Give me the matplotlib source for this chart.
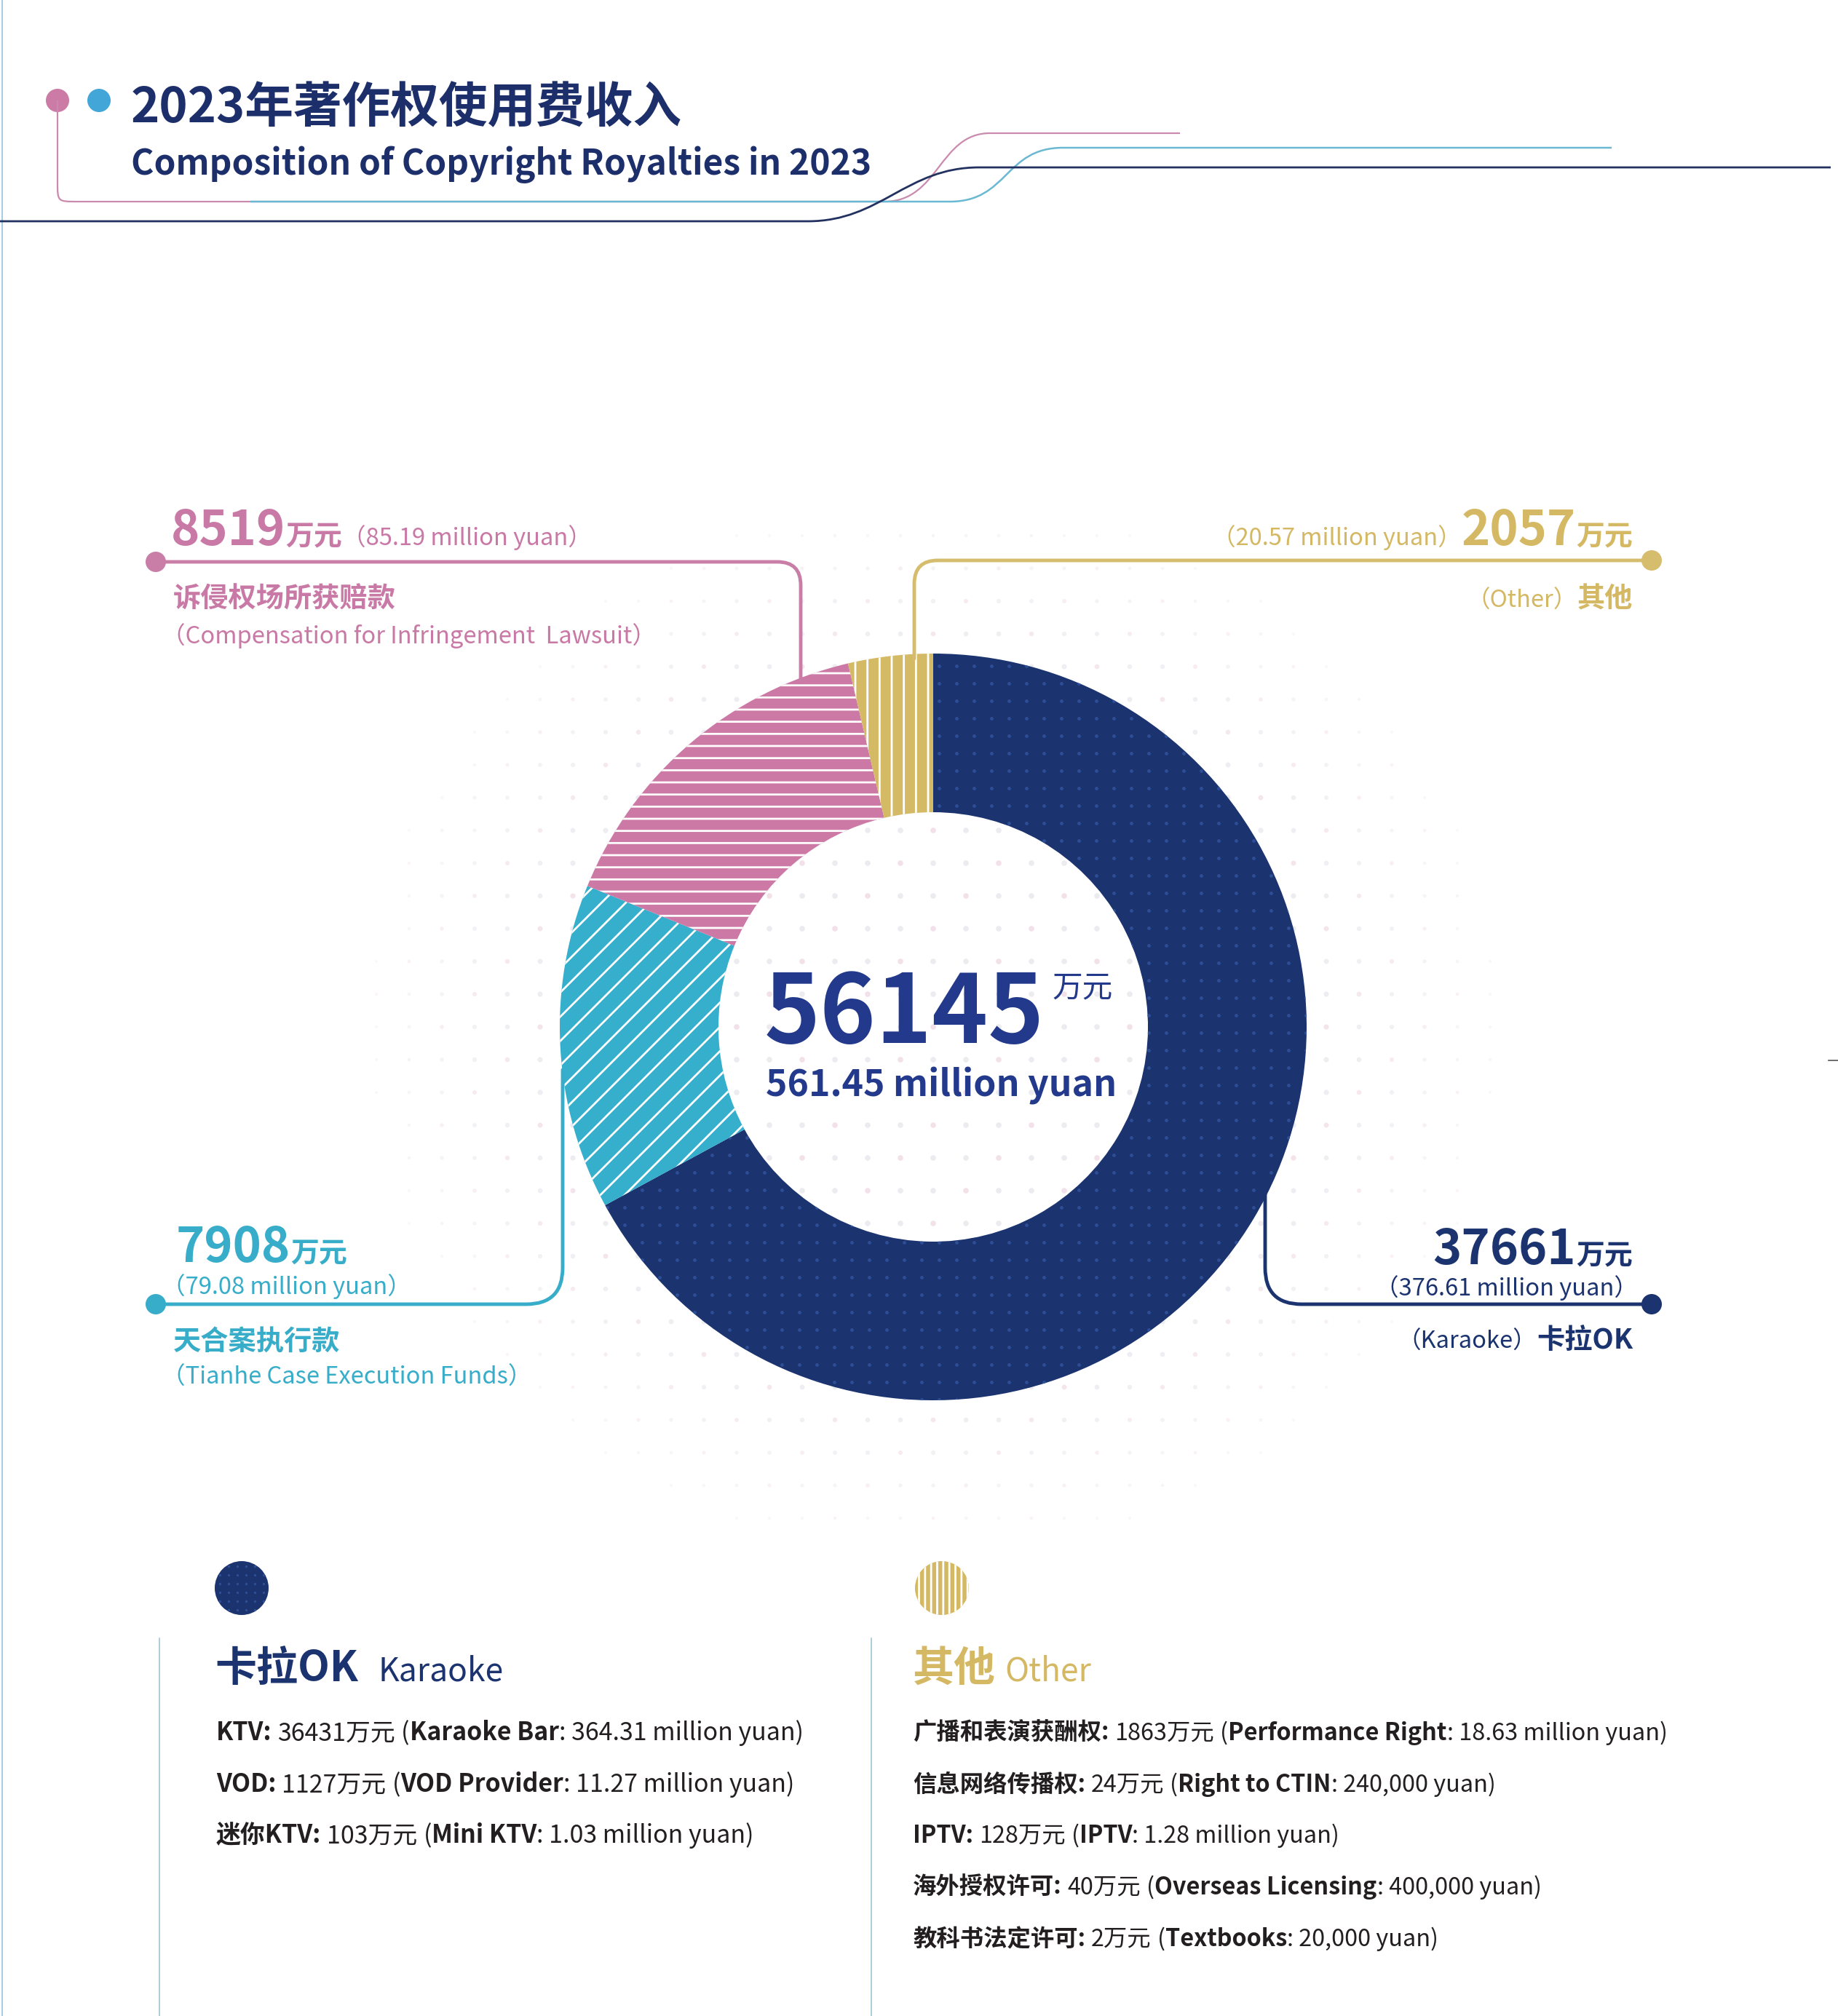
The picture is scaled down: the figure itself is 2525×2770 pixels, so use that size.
import numpy as np
import matplotlib
matplotlib.use("Agg")
import matplotlib.pyplot as plt
from matplotlib.path import Path
from matplotlib.patches import PathPatch, Circle

plt.rcParams['font.family'] = ['Noto Sans CJK SC', 'DejaVu Sans']
plt.rcParams['hatch.linewidth'] = 2.0

# ---- data (万元) ----
categories = ['卡拉OK', '天合案执行款', '诉侵权场所获赔款', '其他']
categories_en = ['Karaoke', 'Tianhe Case Execution Funds',
                 'Compensation for Infringement  Lawsuit', 'Other']
values = [37661, 7908, 8519, 2057]
values_million = ['376.61', '79.08', '85.19', '20.57']
total = 56145
total_million = '561.45'

karaoke_cn = ['KTV', 'VOD', '迷你KTV']
karaoke_val = [36431, 1127, 103]
karaoke_en = ['Karaoke Bar', 'VOD Provider', 'Mini KTV']
karaoke_yuan = ['364.31 million yuan', '11.27 million yuan', '1.03 million yuan']

other_cn = ['广播和表演获酬权', '信息网络传播权', 'IPTV', '海外授权许可', '教科书法定许可']
other_val = [1863, 24, 128, 40, 2]
other_en = ['Performance Right', 'Right to CTIN', 'IPTV', 'Overseas Licensing', 'Textbooks']
other_yuan = ['18.63 million yuan', '240,000 yuan', '1.28 million yuan',
              '400,000 yuan', '20,000 yuan']

# ---- colours ----
NAVY = '#1b336f'
NAVY_TXT = '#23398c'
CYAN = '#37adc9'
PINK = '#c979a5'
GOLD = '#d4b863'
DARK = '#231f20'
wedge_colors = [NAVY, '#35afcb', '#cc79a6', '#d5ba66']
wedge_hatch = [None, '/', '-', '|']

W, H = 2525, 2770
fig = plt.figure(figsize=(W / 100, H / 100), dpi=100)
ax = fig.add_axes([0, 0, 1, 1])
CX, CY, R, RW = 1282, 1411, 513, 218

# donut (y axis is inverted afterwards, so draw counterclock in data = clockwise on screen)
wedges, _ = ax.pie(values, radius=R, center=(CX, CY), startangle=-90,
                   counterclock=True, wedgeprops=dict(width=RW, linewidth=0))
for w, c, h in zip(wedges, wedge_colors, wedge_hatch):
    w.set_facecolor(c)
    w.set_zorder(2)
    if h:
        w.set_hatch(h)
        w.set_edgecolor('white')
        w.set_linewidth(0)

ax.set_xlim(0, W)
ax.set_ylim(H, 0)
ax.set_aspect('auto')
ax.axis('off')

# faint background dot grid around the donut
gx, gy = np.meshgrid(np.arange(CX - 765, CX + 766, 45), np.arange(CY - 720, CY + 721, 45))
gx, gy = gx.ravel(), gy.ravel()
d = np.hypot((gx - CX) / 1.08, gy - CY)
keep = d < 720
gx, gy, d = gx[keep], gy[keep], d[keep]
fade = np.clip((720 - d) / 260, 0, 1)
cols = np.where(((gx - CX) // 45 + (gy - CY) // 45) % 3 == 0, '#f1dce6', '#e8e8ee')
ax.scatter(gx, gy, s=8 + 22 * fade, c=cols, alpha=0.25 + 0.6 * fade, linewidths=0, zorder=1)

# dotted texture on the karaoke wedge
dx, dy = np.meshgrid(np.arange(CX - 520, CX + 521, 24), np.arange(CY - 520, CY + 521, 24))
dots = ax.scatter(dx.ravel(), dy.ravel(), s=12, c='#2d4f95', linewidths=0, zorder=3)
dots.set_clip_path(wedges[0])


def rounded(pts, r):
    verts, codes = [pts[0]], [Path.MOVETO]
    for i in range(1, len(pts) - 1):
        p0, p1, p2 = (np.array(p, float) for p in pts[i - 1:i + 2])
        a = p1 + (p0 - p1) / np.linalg.norm(p0 - p1) * r
        b = p1 + (p2 - p1) / np.linalg.norm(p2 - p1) * r
        verts += [a, p1, b]
        codes += [Path.LINETO, Path.CURVE3, Path.CURVE3]
    verts.append(pts[-1])
    codes.append(Path.LINETO)
    return Path(verts, codes)


def leader(pts, r, color):
    ax.add_patch(PathPatch(rounded(pts, r), fc='none', ec=color, lw=3.5,
                           capstyle='round', zorder=4))
    ax.add_patch(Circle(pts[0], 14, fc=color, ec='none', zorder=5))


leader([(214, 772), (1100, 772), (1100, 935)], 32, '#c97ea8')
leader([(2269, 770), (1256, 770), (1256, 905)], 32, '#d6bd6e')
leader([(214, 1792), (773, 1792), (773, 1470)], 50, CYAN)
leader([(2269, 1792), (1738, 1792), (1738, 1640)], 50, NAVY)

# ---- header decoration ----
ax.plot([3, 3], [0, H], color='#a6cde0', lw=1.5)
ax.plot([2512, 2525], [1457, 1457], color='#555555', lw=1.2)
ax.add_patch(Circle((79, 138), 16, fc='#cc7aa6', ec='none'))
ax.add_patch(Circle((136, 138), 16, fc='#42a7d8', ec='none'))


def curve(segs, color, lw):
    verts, codes = [segs[0]], [Path.MOVETO]
    for s in segs[1:]:
        if len(s) == 2 and not isinstance(s[0], tuple):
            verts.append(s)
            codes.append(Path.LINETO)
        else:
            verts += list(s)
            codes += [Path.CURVE4] * 3
    ax.add_patch(PathPatch(Path(verts, codes), fc='none', ec=color, lw=lw, zorder=2))


curve([(79, 138), (79, 250), ((79, 277), (79, 277), (106, 277)), (1215, 277),
       ((1290, 277), (1290, 183), (1360, 183)), (1621, 183)], '#c98aae', 1.6)
curve([(344, 277), (1305, 277), ((1385, 277), (1380, 203), (1460, 203)), (2214, 203)],
      '#6ab8d2', 1.8)
curve([(0, 304), (1110, 304), ((1210, 304), (1245, 230), (1345, 230)), (2515, 230)],
      '#22315f', 2.0)

# ---- text helpers ----
renderer = fig.canvas.get_renderer()


def st(size, color, weight='regular'):
    return dict(fontsize=size, color=color, fontweight=weight)


def runs(x, y, parts, ha='left'):
    # parts: (text, style, gap before in px)
    items = []
    for s, style, gap in parts:
        t = ax.text(0, y, s, va='baseline', ha='left', zorder=6, **style)
        items.append((t, gap, t.get_window_extent(renderer).width))
    width = sum(g + w for _, g, w in items)
    cx = x if ha == 'left' else x - width
    for t, g, w in items:
        cx += g
        t.set_x(cx)
        cx += w


ax.text(180, 168, '2023年著作权使用费收入', fontsize=48, fontweight='bold',
        color='#1c2f6b', va='baseline')
ax.text(180, 240, 'Composition of Copyright Royalties in 2023', fontsize=34.5,
        fontweight='bold', color='#1c2f6b', va='baseline')

# ---- donut labels ----
NUM, UNIT, LAB, SUB = 48, 28, 27.5, 23.5
k, t, c, o = range(4)

runs(235, 749, [(f'{values[c]}', st(NUM, PINK, 'bold'), 0),
                ('万元', st(UNIT, PINK, 'bold'), 0),
                (f'（{values_million[c]} million yuan）', st(SUB, PINK, 'light'), 0)])
runs(238, 835, [(categories[c], st(LAB, PINK, 'bold'), 0)])
runs(222, 884, [(f'（{categories_en[c]}）', st(SUB, PINK, 'light'), 0)])

runs(2243, 749, [(f'（{values_million[o]} million yuan）', st(SUB, GOLD, 'light'), 0),
                 (f'{values[o]}', st(NUM, GOLD, 'bold'), 0),
                 ('万元', st(UNIT, GOLD, 'bold'), 0)], ha='right')
runs(2243, 835, [(f'（{categories_en[o]}）', st(SUB, GOLD, 'light'), 0),
                 (categories[o], st(LAB, GOLD, 'bold'), 0)], ha='right')

runs(242, 1734, [(f'{values[t]}', st(NUM, CYAN, 'bold'), 0),
                 ('万元', st(UNIT, CYAN, 'bold'), 0)])
runs(222, 1778, [(f'（{values_million[t]} million yuan）', st(SUB, CYAN, 'light'), 0)])
runs(238, 1855, [(categories[t], st(LAB, CYAN, 'bold'), 0)])
runs(222, 1902, [(f'（{categories_en[t]}）', st(SUB, CYAN, 'light'), 0)])

runs(2243, 1737, [(f'{values[k]}', st(NUM, NAVY, 'bold'), 0),
                  ('万元', st(UNIT, NAVY, 'bold'), 0)], ha='right')
runs(2250, 1780, [(f'（{values_million[k]} million yuan）', st(SUB, NAVY), 0)], ha='right')
runs(2243, 1853, [(f'（{categories_en[k]}）', st(SUB, NAVY), 0),
                  (categories[k], st(LAB, NAVY, 'bold'), 0)], ha='right')

# centre
ax.text(1050, 1433, f'{total}', fontsize=94, fontweight='bold', color=NAVY_TXT,
        va='baseline', zorder=6)
ax.text(1446, 1369, '万元', fontsize=30, color=NAVY_TXT, va='baseline', zorder=6)
ax.text(1052, 1507, f'{total_million} million yuan', fontsize=36, fontweight='bold',
        color=NAVY_TXT, va='baseline', zorder=6)

# ---- bottom breakdown ----
ax.plot([219, 219], [2251, 2770], color='#9fc3d3', lw=1.2)
ax.plot([1197, 1197], [2251, 2770], color='#9fc3d3', lw=1.2)

mk = Circle((332, 2182), 37, fc=NAVY, ec='none', zorder=3)
ax.add_patch(mk)
mx, my = np.meshgrid(np.arange(290, 376, 12), np.arange(2140, 2226, 12))
md = ax.scatter(mx.ravel(), my.ravel(), s=6, c='#2d4f95', linewidths=0, zorder=4)
md.set_clip_path(mk)
ax.add_patch(Circle((1294, 2182), 37, fc=GOLD, ec='white', lw=0, hatch='||', zorder=3))

runs(295, 2310, [(categories[k], st(41, NAVY, 'bold'), 0),
                 (categories_en[k], st(32, NAVY), 28)])
runs(1254, 2310, [(categories[o], st(41, GOLD, 'bold'), 0),
                  (categories_en[o], st(32, GOLD), 12)])

row_y = [2391, 2462, 2532, 2603, 2674]
for i in range(len(karaoke_cn)):
    BODY = 24.4
    runs(297, row_y[i], [(f'{karaoke_cn[i]}:', st(BODY, DARK, 'bold'), 0),
                         (f'{karaoke_val[i]}万元', st(BODY, DARK), 8),
                         ('(', st(BODY, DARK), 8),
                         (karaoke_en[i], st(BODY, DARK, 'bold'), 0),
                         (f': {karaoke_yuan[i]})', st(BODY, DARK), 0)])
for i in range(len(other_cn)):
    BODY = 23.3
    runs(1254, row_y[i], [(f'{other_cn[i]}:', st(BODY, DARK, 'bold'), 0),
                          (f'{other_val[i]}万元', st(BODY, DARK), 8),
                          ('(', st(BODY, DARK), 8),
                          (other_en[i], st(BODY, DARK, 'bold'), 0),
                          (f': {other_yuan[i]})', st(BODY, DARK), 0)])

fig.savefig('out.png', dpi=100, facecolor='white')
